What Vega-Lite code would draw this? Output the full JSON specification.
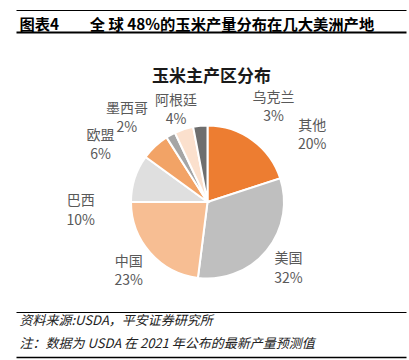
{
  "$schema": "https://vega.github.io/schema/vega-lite/v6.json",
  "width": 383,
  "height": 220,
  "autosize": {"type": "none"},
  "padding": {"left": 16, "top": 92, "right": 10, "bottom": 48},
  "background": "white",
  "config": {"font": "Noto Sans CJK SC", "view": {"stroke": null}},
  "data": {"values": [
    {"region": "其他", "value": 20, "pct": "20%", "rank": 1},
    {"region": "美国", "value": 32, "pct": "32%", "rank": 2},
    {"region": "中国", "value": 23, "pct": "23%", "rank": 3},
    {"region": "巴西", "value": 10, "pct": "10%", "rank": 4},
    {"region": "欧盟", "value": 6, "pct": "6%", "rank": 5},
    {"region": "墨西哥", "value": 2, "pct": "2%", "rank": 6},
    {"region": "阿根廷", "value": 4, "pct": "4%", "rank": 7},
    {"region": "乌克兰", "value": 3, "pct": "3%", "rank": 8}
  ]},
  "transform": [{"calculate": "datum.region + '\\n' + datum.pct", "as": "label"}],
  "resolve": {"scale": {"x": "independent"}, "axis": {"x": "independent"}},
  "layer": [
    {
      "mark": {"type": "rule", "opacity": 0},
      "encoding": {"x": {"field": "value", "type": "quantitative", "scale": {"range": [0, 390]},
        "axis": {"orient": "top", "offset": 0, "domain": false, "ticks": false, "labels": false, "grid": false,
          "title": "玉米主产区分布", "titleFontSize": 17, "titleFontWeight": "bold", "titleColor": "#1a1a1a",
          "titleBaseline": "alphabetic", "titleY": -11, "titleAnchor": "middle"}}}
    },
    {
      "mark": {"type": "rule", "opacity": 0},
      "encoding": {"x": {"field": "value", "type": "quantitative", "scale": {"range": [0, 390]},
        "axis": {"orient": "top", "offset": 60, "domain": true, "domainColor": "#000000", "domainWidth": 2, "ticks": false, "labels": false, "grid": false,
          "title": "图表4\u2003\u2003全 球 48%的玉米产量分布在几大美洲产地", "titleFontSize": 15.3, "titleFontWeight": "bold", "titleColor": "#000000",
          "titleBaseline": "alphabetic", "titleAnchor": "start", "titleAlign": "left", "titleX": 3, "titleY": -3}}}
    },
    {
      "mark": {"type": "rule", "opacity": 0},
      "encoding": {"x": {"field": "value", "type": "quantitative", "scale": {"range": [0, 390]},
        "axis": {"orient": "top", "offset": 82, "domain": true, "domainColor": "#000000", "domainWidth": 1, "ticks": false, "labels": false, "grid": false, "title": null}}}
    },
    {
      "mark": {"type": "rule", "opacity": 0},
      "encoding": {"x": {"field": "value", "type": "quantitative", "scale": {"range": [0, 390]},
        "axis": {"orient": "bottom", "offset": 0, "domain": true, "domainColor": "#000000", "domainWidth": 1, "ticks": false, "labels": false, "grid": false,
          "title": ["资料来源:USDA，平安证券研究所", "注：数据为 USDA 在 2021 年公布的最新产量预测值"],
          "titleFontSize": 13, "titleFontWeight": "normal", "titleFontStyle": "italic", "titleColor": "#222222", "titleLineHeight": 22.5,
          "titleBaseline": "alphabetic", "titleAnchor": "start", "titleAlign": "left", "titleX": 3, "titleY": 12.5}}}
    },
    {
      "mark": {"type": "rule", "opacity": 0},
      "encoding": {"x": {"field": "value", "type": "quantitative", "scale": {"range": [0, 390]},
        "axis": {"orient": "bottom", "offset": 45, "domain": true, "domainColor": "#000000", "domainWidth": 1.5, "ticks": false, "labels": false, "grid": false, "title": null}}}
    },
    {
      "mark": {"type": "arc", "outerRadius": 76.5, "stroke": "#ffffff", "strokeWidth": 2},
      "encoding": {
        "theta": {"field": "value", "type": "quantitative", "stack": true},
        "order": {"field": "rank", "type": "quantitative"},
        "color": {"field": "region", "type": "nominal", "legend": null,
          "scale": {"domain": ["其他", "美国", "中国", "巴西", "欧盟", "墨西哥", "阿根廷", "乌克兰"],
            "range": ["#ED7D31", "#BFBFBF", "#F7BE93", "#DFDFDF", "#F2A366", "#A5A5A5", "#FBE0CD", "#6E6E6E"]}}
      }
    },
    {
      "mark": {"type": "text", "radius": 105, "dy": -9.5, "fontSize": 14, "lineBreak": "\n", "lineHeight": 19.5, "color": "#595959"},
      "encoding": {
        "theta": {"field": "value", "type": "quantitative", "stack": true},
        "order": {"field": "rank", "type": "quantitative"},
        "detail": {"field": "region", "type": "nominal"},
        "text": {"condition": {"test": "datum.region === '美国' || datum.region === '中国'", "field": "label"}, "value": ""}
      }
    },
    {
      "mark": {"type": "text", "radius": 105, "dx": 43, "dy": 8.5, "fontSize": 14, "lineBreak": "\n", "lineHeight": 19.5, "color": "#595959"},
      "encoding": {
        "theta": {"field": "value", "type": "quantitative", "stack": true},
        "order": {"field": "rank", "type": "quantitative"},
        "detail": {"field": "region", "type": "nominal"},
        "text": {"condition": {"test": "datum.region === '其他'", "field": "label"}, "value": ""}
      }
    },
    {
      "mark": {"type": "text", "radius": 105, "dx": -27, "dy": 31.5, "fontSize": 14, "lineBreak": "\n", "lineHeight": 19.5, "color": "#595959"},
      "encoding": {
        "theta": {"field": "value", "type": "quantitative", "stack": true},
        "order": {"field": "rank", "type": "quantitative"},
        "detail": {"field": "region", "type": "nominal"},
        "text": {"condition": {"test": "datum.region === '巴西'", "field": "label"}, "value": ""}
      }
    },
    {
      "mark": {"type": "text", "radius": 105, "dx": -35, "dy": 10.5, "fontSize": 14, "lineBreak": "\n", "lineHeight": 19.5, "color": "#595959"},
      "encoding": {
        "theta": {"field": "value", "type": "quantitative", "stack": true},
        "order": {"field": "rank", "type": "quantitative"},
        "detail": {"field": "region", "type": "nominal"},
        "text": {"condition": {"test": "datum.region === '欧盟'", "field": "label"}, "value": ""}
      }
    },
    {
      "mark": {"type": "text", "radius": 105, "dx": -30, "dy": -1, "fontSize": 14, "lineBreak": "\n", "lineHeight": 19.5, "color": "#595959"},
      "encoding": {
        "theta": {"field": "value", "type": "quantitative", "stack": true},
        "order": {"field": "rank", "type": "quantitative"},
        "detail": {"field": "region", "type": "nominal"},
        "text": {"condition": {"test": "datum.region === '墨西哥'", "field": "label"}, "value": ""}
      }
    },
    {
      "mark": {"type": "text", "radius": 105, "dx": 1, "dy": -1.5, "fontSize": 14, "lineBreak": "\n", "lineHeight": 19.5, "color": "#595959"},
      "encoding": {
        "theta": {"field": "value", "type": "quantitative", "stack": true},
        "order": {"field": "rank", "type": "quantitative"},
        "detail": {"field": "region", "type": "nominal"},
        "text": {"condition": {"test": "datum.region === '阿根廷'", "field": "label"}, "value": ""}
      }
    },
    {
      "mark": {"type": "text", "radius": 105, "dx": 76, "dy": 0.5, "fontSize": 14, "lineBreak": "\n", "lineHeight": 19.5, "color": "#595959"},
      "encoding": {
        "theta": {"field": "value", "type": "quantitative", "stack": true},
        "order": {"field": "rank", "type": "quantitative"},
        "detail": {"field": "region", "type": "nominal"},
        "text": {"condition": {"test": "datum.region === '乌克兰'", "field": "label"}, "value": ""}
      }
    }
  ]
}
